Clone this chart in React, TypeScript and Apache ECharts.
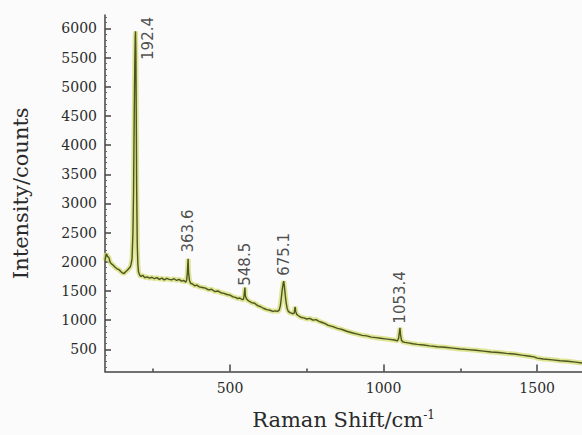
import React, { useEffect, useRef } from "react";
import * as echarts from "echarts";

// Raman spectrum (Raman shift cm-1, intensity counts)
const shift: number[] = [
  93, 96, 98, 101, 105, 110, 115, 120, 125, 132, 140, 145, 150, 155, 160, 165, 170, 175, 178, 181,
  184, 186, 188, 190, 191.5, 192.4, 193.5, 195, 196, 198, 200, 202, 206, 210, 216, 222, 230, 238, 246, 254,
  262, 270, 278, 286, 294, 302, 310, 318, 326, 334, 342, 350, 356, 359, 361, 363.6, 365, 368, 372, 378,
  385, 392, 400, 410, 420, 430, 440, 450, 460, 470, 480, 490, 500, 510, 518, 525, 532, 540, 544, 546,
  548.5, 550, 553, 558, 564, 570, 580, 590, 600, 610, 620, 630, 640, 648, 655, 660, 664, 667, 670, 673,
  675.1, 677, 680, 683, 686, 690, 695, 700, 705, 709, 712, 714, 717, 722, 730, 740, 750, 760, 770, 780,
  790, 800, 810, 820, 835, 850, 865, 880, 900, 915, 930, 945, 960, 975, 990, 1005, 1020, 1035, 1045, 1049,
  1051, 1053.4, 1055, 1058, 1062, 1070, 1080, 1095, 1110, 1130, 1150, 1175, 1200, 1225, 1250, 1275, 1300, 1325, 1350, 1375,
  1400, 1425, 1450, 1470, 1490, 1500, 1520, 1550, 1575, 1600, 1625, 1646,
];
const intensity: number[] = [
  2020, 2110, 2140, 2090, 2080, 1990, 1960, 1940, 1910, 1880, 1860, 1830, 1810, 1800, 1830, 1850, 1880, 1910, 1960, 2050,
  2500, 3200, 4400, 5400, 5850, 5950, 5600, 4300, 3300, 2300, 1960, 1830, 1770, 1750, 1770, 1730, 1740, 1720, 1735, 1710,
  1730, 1700, 1720, 1690, 1715, 1700, 1690, 1710, 1680, 1700, 1670, 1680, 1650, 1690, 1800, 2050, 1820, 1680, 1630, 1620,
  1590, 1600, 1570, 1560, 1550, 1520, 1530, 1490, 1500, 1470, 1460, 1440, 1430, 1400, 1390, 1370, 1380, 1350, 1360, 1430,
  1560, 1420, 1370, 1340, 1320, 1300, 1290, 1250, 1230, 1200, 1180, 1170, 1150, 1160, 1150, 1170, 1250, 1380, 1520, 1630,
  1670, 1580, 1420, 1290, 1200, 1150, 1130, 1120, 1110, 1120, 1230, 1150, 1100, 1080, 1050, 1040, 1020, 1030, 1000, 1010,
  980, 960, 940, 910, 890, 860, 840, 810, 780, 760, 740, 730, 710, 700, 690, 680, 670, 660, 645, 690,
  780, 870, 760, 660, 630, 620, 610, 595, 585, 575, 560, 545, 535, 520, 505, 495, 485, 470, 455, 445,
  430, 420, 400, 385, 370, 350, 335, 320, 305, 295, 280, 265,
];

// Peak annotations
const peakLabels: string[] = ["192.4", "363.6", "548.5", "675.1", "1053.4"];
const peakLabelX: number[] = [232, 363.6, 548.5, 675.1, 1053.4];
const peakLabelY: number[] = [5460, 2160, 1590, 1760, 940];

// Axis ticks
const xMajorTicks: number[] = [500, 1000, 1500];
const xMinorTicks: number[] = [250, 750, 1250];
const yMajorTicks: number[] = [500, 1000, 1500, 2000, 2500, 3000, 3500, 4000, 4500, 5000, 5500, 6000];
const yMinorTicks: number[] = [
  200, 300, 400, 600, 700, 800, 900, 1100, 1200, 1300, 1400, 1600, 1700, 1800, 1900, 2100, 2200, 2300, 2400,
  2600, 2700, 2800, 2900, 3100, 3200, 3300, 3400, 3600, 3700, 3800, 3900, 4100, 4200, 4300, 4400, 4600, 4700,
  4800, 4900, 5100, 5200, 5300, 5400, 5600, 5700, 5800, 5900, 6100, 6200,
];

const X_MIN = 93;
const X_MAX = 1646;
const Y_MIN = 120;
const Y_MAX = 6230;

export default function App() {
  const ref = useRef<HTMLDivElement>(null);
  useEffect(() => {
    if (!ref.current) return;
    const chart = echarts.init(ref.current, null, { renderer: "svg" });
    const lineData = shift.map((x, i) => [x, intensity[i]]);
    const axisColor = "#444";
    const serif = "DejaVu Serif";
    const plain = (v: number) => String(v);
    chart.setOption({
      animation: false,
      backgroundColor: "#fbfbfb",
      grid: { left: 105, right: 0, top: 15, bottom: 62 },
      xAxis: [
        {
          type: "value",
          min: X_MIN,
          max: X_MAX,
          axisLine: { lineStyle: { color: axisColor, width: 1.5 } },
          axisTick: { inside: true, length: 7, customValues: xMajorTicks, lineStyle: { color: axisColor, width: 1.5 } },
          axisLabel: { customValues: xMajorTicks, formatter: plain, fontFamily: serif, fontSize: 14, color: "#2a2a2a", margin: 9 },
          splitLine: { show: false },
          name: "{a|Raman Shift/cm}{b|-1}",
          nameLocation: "middle",
          nameGap: 37,
          nameTextStyle: {
            rich: {
              a: { fontFamily: serif, fontSize: 21, color: "#2a2a2a" },
              b: { fontFamily: serif, fontSize: 12, color: "#2a2a2a", padding: [0, 0, 10, 0] },
            },
          },
        },
        {
          type: "value",
          min: X_MIN,
          max: X_MAX,
          position: "bottom",
          offset: 0,
          axisLine: { show: false },
          axisTick: { inside: true, length: 3, customValues: xMinorTicks, lineStyle: { color: axisColor, width: 1.5 } },
          axisLabel: { show: false },
          splitLine: { show: false },
        },
      ],
      yAxis: [
        {
          type: "value",
          min: Y_MIN,
          max: Y_MAX,
          axisLine: { show: true, lineStyle: { color: axisColor, width: 1.5 } },
          axisTick: { show: true, inside: true, length: 6, customValues: yMajorTicks, lineStyle: { color: axisColor, width: 1.5 } },
          axisLabel: { customValues: yMajorTicks, formatter: plain, fontFamily: serif, fontSize: 14, color: "#2a2a2a", margin: 8 },
          splitLine: { show: false },
          name: "Intensity/counts",
          nameLocation: "middle",
          nameGap: 74,
          nameTextStyle: { fontFamily: serif, fontSize: 21, color: "#2a2a2a" },
        },
        {
          type: "value",
          min: Y_MIN,
          max: Y_MAX,
          position: "left",
          offset: 0,
          axisLine: { show: false },
          axisTick: { show: true, inside: true, length: 2, customValues: yMinorTicks, lineStyle: { color: "#666", width: 1 } },
          axisLabel: { show: false },
          splitLine: { show: false },
        },
      ],
      series: [
        {
          type: "line",
          data: lineData,
          showSymbol: false,
          symbol: "none",
          lineStyle: { color: "#d9df7c", width: 5, opacity: 0.8 },
          silent: true,
          z: 2,
        },
        {
          type: "line",
          data: lineData,
          showSymbol: false,
          symbol: "none",
          lineStyle: { color: "#4a5620", width: 1.4 },
          silent: true,
          z: 3,
        },
        {
          type: "scatter",
          symbolSize: 0,
          data: peakLabels.map((t, i) => [peakLabelX[i], peakLabelY[i], t]),
          label: {
            show: true,
            position: [0, 0],
            align: "left",
            verticalAlign: "middle",
            rotate: 90,
            formatter: (p: any) => p.value[2],
            fontFamily: "DejaVu Sans",
            fontSize: 15,
            color: "#222",
          },
          silent: true,
          z: 4,
        },
      ],
    });
    return () => chart.dispose();
  }, []);
  return <div ref={ref} style={{ position: "absolute", left: 0, top: 0, width: 582, height: 435 }} />;
}
